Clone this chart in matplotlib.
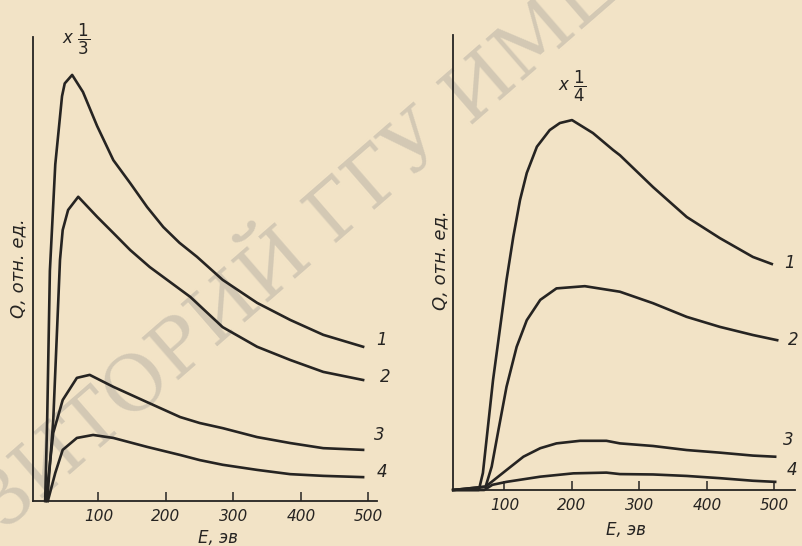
import matplotlib
matplotlib.use('Agg')
import matplotlib.pyplot as plt

# энергия, эВ и выход Q (отн. ед.)
left_e1 = [21, 24, 28, 36, 46, 50, 61, 77, 98, 122, 147, 172, 196, 220, 246, 284, 335, 384, 433, 492]
left_q1 = [0, 19, 54, 79, 95, 98, 100, 96, 88, 80, 74.6, 69, 64.3, 60.6, 57.3, 51.9, 46.5, 42.5, 39, 36.2]
left_e2 = [24, 33, 43, 47, 55, 70, 98, 122, 147, 176, 236, 284, 335, 384, 433, 492]
left_q2 = [0, 19, 56.6, 63.6, 68.3, 71.4, 66.7, 62.9, 58.9, 54.9, 47.9, 40.8, 36.2, 33.1, 30.3, 28.4]
left_e3 = [22, 33, 47, 68, 87, 122, 172, 221, 250, 284, 335, 384, 433, 492]
left_q3 = [0, 16, 23.7, 28.9, 29.6, 26.8, 23.2, 19.7, 18.3, 17.1, 15.0, 13.6, 12.4, 12.0]
left_e4 = [25, 36, 47, 68, 92, 122, 172, 221, 250, 284, 335, 384, 433, 492]
left_q4 = [0, 6.6, 12.0, 14.8, 15.5, 14.8, 12.7, 10.8, 9.6, 8.5, 7.3, 6.3, 5.9, 5.6]

right_e1 = [24, 62, 68, 83, 103, 113, 123, 133, 148, 167, 182, 200, 231, 261, 271, 320, 370, 419, 468, 496]
right_q1 = [0, 0, 4.6, 29.7, 56.8, 68.4, 78.4, 85.7, 92.8, 97.3, 99.2, 100, 96.5, 91.9, 90.5, 81.9, 73.8, 68.1, 63.0, 61.1]
right_e2 = [24, 72, 81, 91, 103, 118, 133, 153, 177, 219, 271, 320, 370, 419, 468, 504]
right_q2 = [0, 0.9, 6.3, 16.2, 27.9, 38.7, 45.9, 51.4, 54.5, 55.1, 53.6, 50.5, 46.8, 44.1, 41.9, 40.5]
right_e3 = [24, 72, 103, 128, 153, 177, 212, 251, 271, 320, 370, 419, 468, 501]
right_q3 = [0, 0.9, 5.4, 9.0, 11.3, 12.6, 13.3, 13.3, 12.6, 11.9, 10.8, 10.1, 9.3, 9.0]
right_e4 = [24, 70, 82, 103, 128, 153, 202, 251, 271, 320, 370, 419, 468, 501]
right_q4 = [0, 0, 1.4, 2.2, 2.9, 3.6, 4.5, 4.7, 4.3, 4.2, 3.8, 3.2, 2.5, 2.2]

e_ticks = [100, 200, 300, 400, 500]
curve_names = ['1', '2', '3', '4']
left_label_pos = [(511, 37.8), (517, 29.1), (508, 15.5), (512, 6.8)]
right_label_pos = [(515, 61.4), (520, 40.5), (512, 13.5), (518, 5.4)]

paper = '#f2e3c6'
ink = '#262422'

plt.rcParams['font.family'] = ['DejaVu Sans']
fig = plt.figure(figsize=(8.02, 5.46), dpi=100, facecolor=paper)

# водяной знак
fig.text(-0.218, -0.258, 'РЕПОЗИТОРИЙ ГГУ ИМЕНИ Ф. СКОРИНЫ', family='DejaVu Serif',
         fontsize=55, color='#a8a49c', alpha=0.42, rotation=41,
         rotation_mode='anchor', ha='left', va='baseline', zorder=-1)


def setup(ax, xlim, ylim):
    ax.set_facecolor('none')
    ax.set_xlim(*xlim)
    ax.set_ylim(*ylim)
    for s in ['top', 'right']:
        ax.spines[s].set_visible(False)
    for s in ['left', 'bottom']:
        ax.spines[s].set_linewidth(1.3)
        ax.spines[s].set_color(ink)
    ax.set_yticks([])
    ax.set_xticks(e_ticks)
    ax.tick_params(axis='x', direction='in', length=6.5, width=1.1, color=ink,
                   labelsize=11, labelcolor=ink, pad=6)
    for t in ax.get_xticklabels():
        t.set_fontstyle('italic')


ax1 = fig.add_axes([33 / 802, 45 / 546, 344 / 802, 464 / 546])
setup(ax1, (3, 512.6), (0, 108.9))
for e, q in [(left_e1, left_q1), (left_e2, left_q2), (left_e3, left_q3), (left_e4, left_q4)]:
    ax1.plot(e, q, color=ink, lw=1.9, clip_on=False)
for name, (x, y) in zip(curve_names, left_label_pos):
    ax1.text(x, y, name, fontsize=12, style='italic', color=ink, ha='left', va='center')
ax1.text(0.085, 0.995, r'x $\dfrac{1}{3}$', transform=ax1.transAxes, fontsize=12,
         style='italic', color=ink, ha='left', va='center')

ax2 = fig.add_axes([453 / 802, 56 / 546, 342 / 802, 455 / 546])
setup(ax2, (23.7, 530.4), (0, 123))
for e, q in [(right_e1, right_q1), (right_e2, right_q2), (right_e3, right_q3), (right_e4, right_q4)]:
    ax2.plot(e, q, color=ink, lw=1.9, clip_on=False)
for name, (x, y) in zip(curve_names, right_label_pos):
    ax2.text(x, y, name, fontsize=12, style='italic', color=ink, ha='left', va='center')
ax2.text(180, 109, r'x $\dfrac{1}{4}$', fontsize=12, style='italic', color=ink,
         ha='left', va='center')

# подписи осей
fig.text(18 / 802, 1 - 268 / 546, 'Q, отн. ед.', rotation=90, fontsize=13, style='italic',
         color=ink, ha='center', va='center')
fig.text(440 / 802, 1 - 260 / 546, 'Q, отн. ед.', rotation=90, fontsize=13, style='italic',
         color=ink, ha='center', va='center')
fig.text(218 / 802, 1 - 538 / 546, 'E, эв', fontsize=12, style='italic', color=ink,
         ha='center', va='center')
fig.text(626 / 802, 1 - 530 / 546, 'E, эв', fontsize=12, style='italic', color=ink,
         ha='center', va='center')

fig.savefig('out.png', dpi=100, facecolor=paper)
